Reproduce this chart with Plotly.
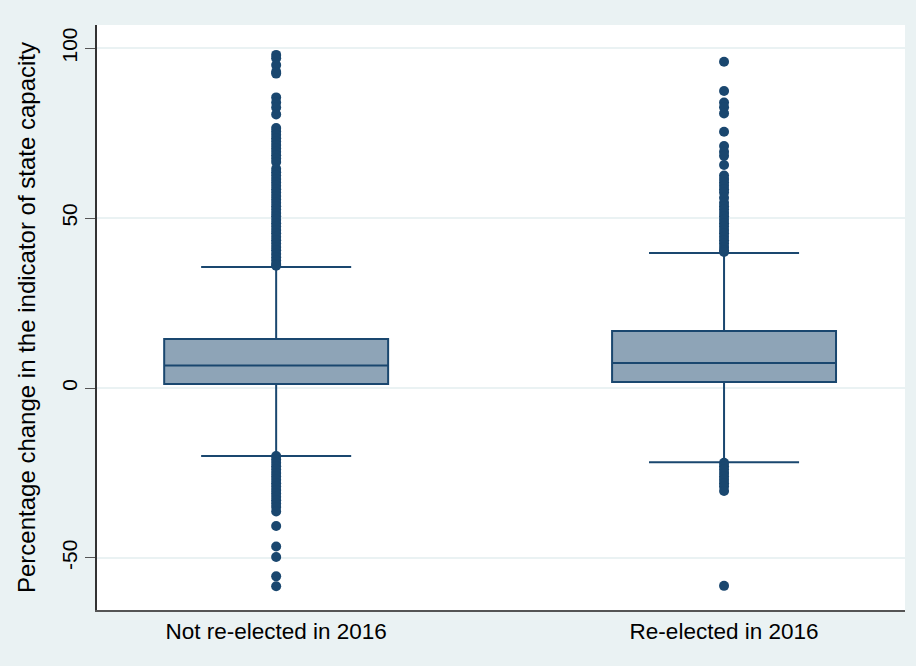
import plotly.graph_objects as go

categories = ["Not re-elected in 2016", "Re-elected in 2016"]
q1 = [1.2, 1.8]
median = [6.6, 7.4]
q3 = [14.4, 16.8]
lower_whisker = [-20.0, -21.8]
upper_whisker = [35.6, 39.7]
y_tickvals = [-50, 0, 50, 100]
y_ticktext = ["-50", "0", "50", "100"]

outliers_not = [98.0, 97.0, 95.0, 93.0, 92.5, 85.5, 84.0, 82.5, 80.5,
                76.5, 75.5, 74.5, 73.5, 72.5, 71.5, 70.5, 69.5, 68.5, 67.5, 66.5,
                64.5, 63.5, 62.5, 61.5, 60.5, 59.5, 58.5, 57.5, 56.5, 55.5, 54.5, 53.5,
                52.5, 51.5, 50.5, 49.5, 48.5, 47.5, 46.5, 45.5, 44.5, 43.5, 42.5, 41.5,
                40.5, 39.5, 38.5, 37.5, 36.5, 36.0,
                -20.0, -21.0, -22.0, -23.0, -24.0, -25.0, -26.0, -27.0, -28.0, -29.0,
                -30.0, -31.0, -32.0, -33.0, -34.0, -35.0, -36.3, -40.6, -46.6, -49.7,
                -55.4, -58.3]
outliers_re = [96.0, 87.4, 84.0, 82.6, 80.8, 75.4, 71.2, 69.5, 68.3, 65.6, 62.5,
               61.5, 60.5, 59.5, 58.5, 57.5, 56.0, 54.5, 53.5, 52.5, 51.5, 50.5,
               49.5, 48.5, 47.5, 46.5, 45.5, 44.5, 43.5, 42.5, 41.5, 40.5, 40.0,
               -22.0, -23.0, -24.0, -25.0, -26.0, -27.0, -28.0, -29.0, -30.3, -58.2]

NAVY = "#1a476f"
FILL = "#8ea4b7"
BG = "#eaf2f3"
FONT = "Arial, Liberation Sans, sans-serif"

fig = go.Figure()
for i in range(len(categories)):
    fig.add_trace(go.Box(
        x=[i], q1=[q1[i]], median=[median[i]], q3=[q3[i]],
        lowerfence=[lower_whisker[i]], upperfence=[upper_whisker[i]],
        width=0.5, whiskerwidth=0.67, boxpoints=False,
        fillcolor=FILL, line=dict(color=NAVY, width=2),
        showlegend=False, hoverinfo="skip",
    ))

for i, pts in enumerate([outliers_not, outliers_re]):
    fig.add_trace(go.Scatter(
        x=[i] * len(pts), y=pts, mode="markers",
        marker=dict(color=NAVY, size=10, line=dict(width=0)),
        showlegend=False, hoverinfo="skip",
    ))

fig.update_layout(
    width=916, height=666,
    margin=dict(l=97, r=11, t=25, b=56),
    paper_bgcolor=BG, plot_bgcolor="white",
    font=dict(family=FONT, size=20, color="black"),
    xaxis=dict(
        range=[-0.4, 1.404], tickvals=[0, 1], ticktext=categories,
        showgrid=False, zeroline=False, showline=True,
        linecolor="#555555", linewidth=1.5, ticks="",
        tickfont=dict(size=22.5),
    ),
    yaxis=dict(
        range=[-65.3, 106.8], tickvals=y_tickvals, ticktext=y_ticktext,
        tickangle=-90, showgrid=True, gridcolor=BG, gridwidth=1.5,
        zeroline=False, showline=True, linecolor="#333333", linewidth=1.5,
        ticks="outside", ticklen=10, tickcolor="#555555",
        tickfont=dict(size=21),
        title=dict(text="Percentage change in the indicator of state capacity",
                   font=dict(size=24), standoff=15),
    ),
)

fig.write_html(
    "out.html",
    config={"displayModeBar": False},
    post_script="document.body.style.margin='0';document.body.style.background='#eaf2f3';",
)
